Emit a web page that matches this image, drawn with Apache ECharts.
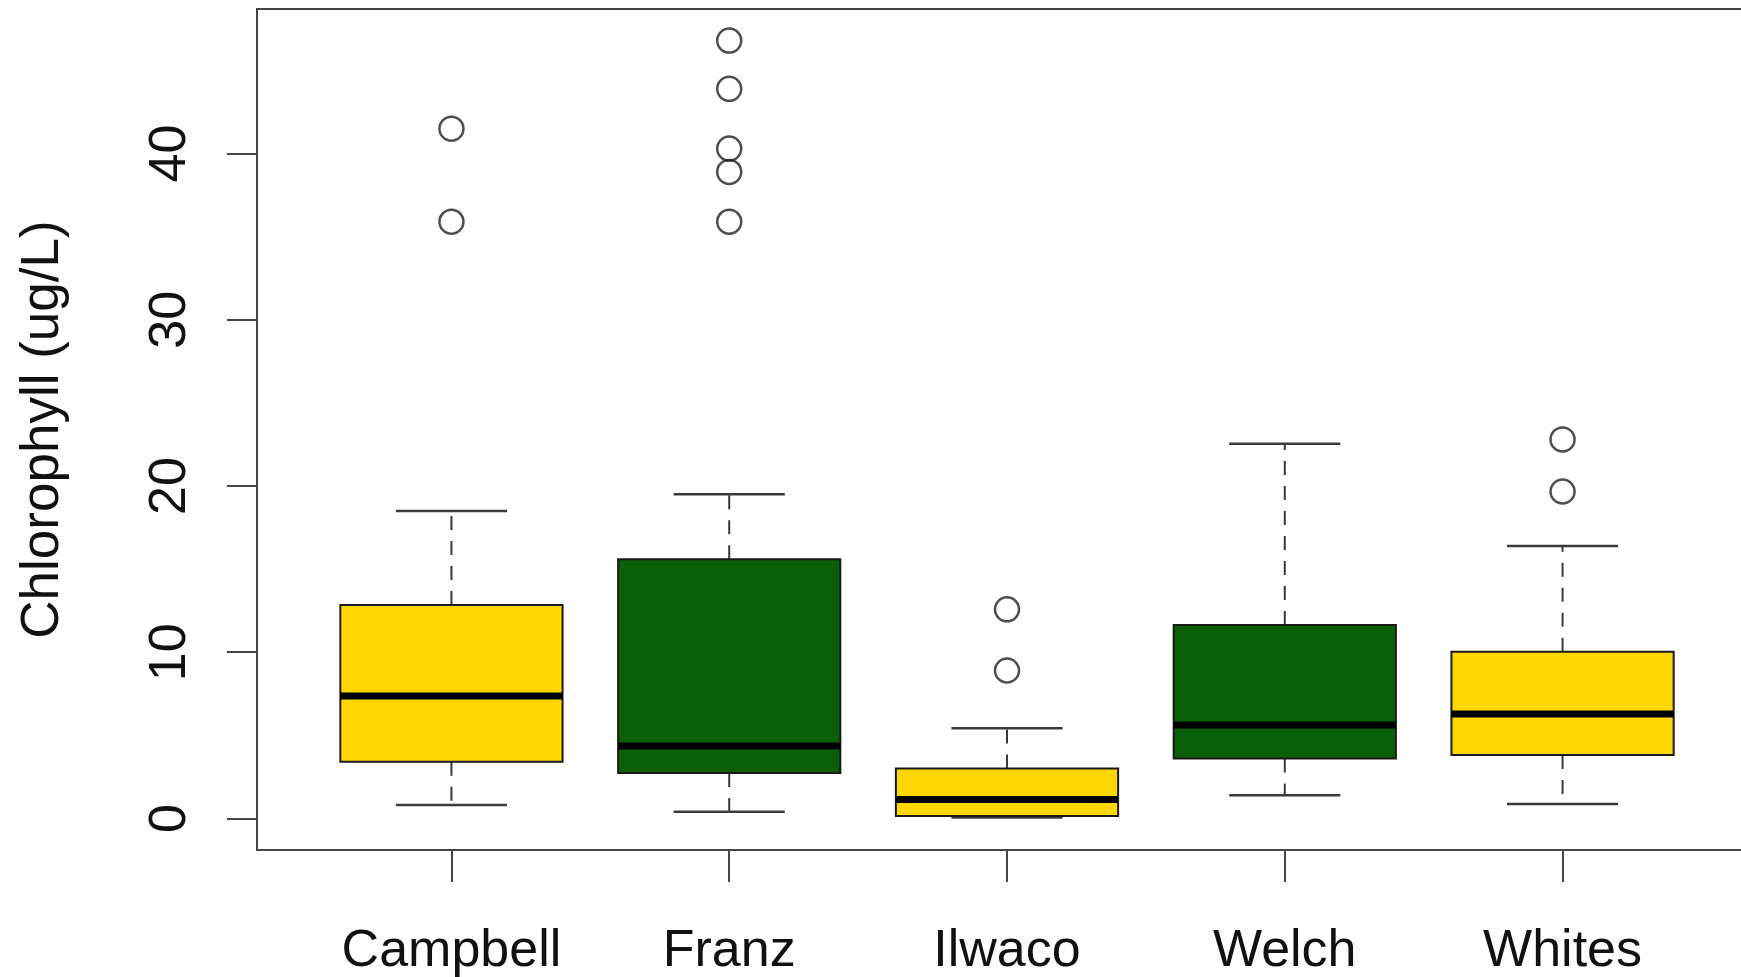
<!DOCTYPE html>
<html>
<head>
<meta charset="utf-8">
<script src="https://cdn.jsdelivr.net/npm/echarts@6/dist/echarts.min.js"></script>
<style>
  html, body { margin: 0; padding: 0; background: #fff; }
  #chart { width: 1741px; height: 977px; }
</style>
</head>
<body>
<div id="chart"></div>
<script>
// Chlorophyll by site: five-number summaries plus outlying samples
const sites = ['Campbell', 'Franz', 'Ilwaco', 'Welch', 'Whites'];
const lowerWhisker = [0.80, 0.40, 0.05, 1.40, 0.87];
const lowerQuartile = [3.41, 2.74, 0.15, 3.61, 3.81];
const medians = [7.36, 4.35, 1.14, 5.62, 6.29];
const upperQuartile = [12.84, 15.60, 3.01, 11.64, 10.03];
const upperWhisker = [18.50, 19.50, 5.42, 22.54, 16.39];
const outlierValues = [
  [41.5, 35.9],
  [46.8, 43.9, 40.3, 38.9, 35.9],
  [12.58, 8.9],
  [],
  [22.8, 19.67]
];
const boxColors = ['#FFD700', '#0B5F08', '#FFD700', '#0B5F08', '#FFD700'];
const yTickValues = [0, 10, 20, 30, 40];
const siteTickValues = [1, 2, 3, 4, 5];

const FONT = '"Liberation Sans", Arial, Helvetica, sans-serif';

const boxData = sites.map((s, i) => [
  i + 1, lowerWhisker[i], lowerQuartile[i], medians[i], upperQuartile[i], upperWhisker[i]
]);
const outlierData = [];
outlierValues.forEach((vals, i) => vals.forEach(v => outlierData.push([i + 1, v])));

function renderBox(params, api) {
  const x = api.value(0);
  const lo = api.coord([x, api.value(1)]);
  const q1 = api.coord([x, api.value(2)]);
  const md = api.coord([x, api.value(3)]);
  const q3 = api.coord([x, api.value(4)]);
  const hi = api.coord([x, api.value(5)]);
  const boxW = api.size([0.8, 0])[0];
  const capW = boxW / 2;
  const cx = lo[0];
  const whiskerStyle = { stroke: '#3a3a3a', lineWidth: 2, lineDash: [14, 11] };
  const capStyle = { stroke: '#3a3a3a', lineWidth: 2.5 };
  return {
    type: 'group',
    children: [
      { type: 'line', shape: { x1: cx, y1: q3[1], x2: cx, y2: hi[1] }, style: whiskerStyle },
      { type: 'line', shape: { x1: cx, y1: q1[1], x2: cx, y2: lo[1] }, style: whiskerStyle },
      { type: 'line', shape: { x1: cx - capW / 2, y1: hi[1], x2: cx + capW / 2, y2: hi[1] }, style: capStyle },
      { type: 'line', shape: { x1: cx - capW / 2, y1: lo[1], x2: cx + capW / 2, y2: lo[1] }, style: capStyle },
      {
        type: 'rect',
        shape: { x: cx - boxW / 2, y: q3[1], width: boxW, height: q1[1] - q3[1] },
        style: { fill: boxColors[params.dataIndex], stroke: '#1a1a1a', lineWidth: 2 }
      },
      {
        type: 'line',
        shape: { x1: cx - boxW / 2, y1: md[1], x2: cx + boxW / 2, y2: md[1] },
        style: { stroke: '#000', lineWidth: 7 }
      }
    ]
  };
}

const chart = echarts.init(document.getElementById('chart'));
chart.setOption({
  backgroundColor: '#fff',
  animation: false,
  grid: {
    left: 257, top: 9, width: 1500, height: 841,
    outerBoundsMode: 'none',
    show: true, borderColor: '#444', borderWidth: 2, backgroundColor: 'transparent'
  },
  xAxis: {
    type: 'value', min: 0.3, max: 5.7,
    splitLine: { show: false },
    axisLine: { show: false, onZero: false },
    axisTick: { show: true, length: 32, lineStyle: { color: '#444', width: 2 }, customValues: siteTickValues },
    axisLabel: {
      customValues: siteTickValues,
      formatter: v => sites[Math.round(v) - 1],
      fontSize: 52, color: '#111', fontFamily: FONT, margin: 76
    }
  },
  yAxis: {
    type: 'value', min: -1.9, max: 48.7,
    name: 'Chlorophyll (ug/L)',
    nameLocation: 'middle', nameGap: 187, nameRotate: 90,
    nameTextStyle: { fontSize: 53, color: '#111', fontFamily: FONT },
    splitLine: { show: false },
    axisLine: { show: false },
    axisTick: { show: true, length: 30, lineStyle: { color: '#444', width: 2 }, customValues: yTickValues },
    axisLabel: {
      customValues: yTickValues, rotate: 90,
      fontSize: 52, color: '#111', fontFamily: FONT, margin: 60
    }
  },
  series: [
    {
      type: 'custom',
      renderItem: renderBox,
      data: boxData,
      encode: { x: 0, y: [1, 2, 3, 4, 5] },
      z: 2
    },
    {
      type: 'scatter',
      data: outlierData,
      symbol: 'circle',
      symbolSize: 24,
      itemStyle: { color: 'rgba(0,0,0,0)', borderColor: '#222', borderWidth: 2.5 },
      z: 3
    }
  ]
});
</script>
</body>
</html>
